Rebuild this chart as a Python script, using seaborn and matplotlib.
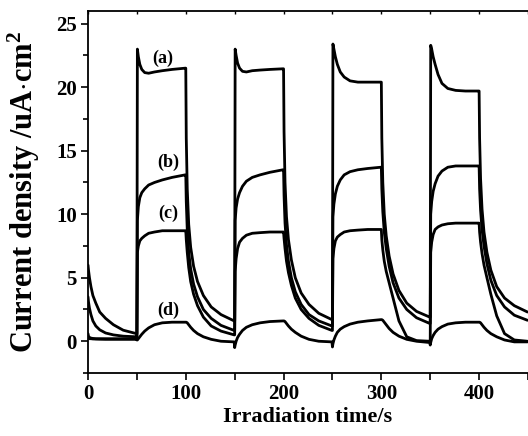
import numpy as np
import pandas as pd
import matplotlib
matplotlib.use("Agg")
import matplotlib.pyplot as plt
import seaborn as sns
from matplotlib.ticker import MultipleLocator

# ---- data ----
TIME = [
    0, 0.5, 1.5, 3, 5, 8, 12, 18, 26, 36, 49.5,
    50, 50.5, 51.5, 53, 55, 58, 62, 68, 76, 86, 99.5,
    100, 100.5, 101.5, 103, 105, 108, 112, 118, 126, 136, 149.5,
    150, 150.5, 151.5, 153, 155, 158, 162, 168, 176, 186, 199.5,
    200, 200.5, 201.5, 203, 205, 208, 212, 218, 226, 236, 249.5,
    250, 250.5, 251.5, 253, 255, 258, 262, 268, 276, 286, 299.5,
    300, 300.5, 301.5, 303, 305, 308, 312, 318, 326, 336, 349.5,
    350, 350.5, 351.5, 353, 355, 358, 362, 368, 376, 386, 399.5,
    400, 400.5, 401.5, 403, 405, 408, 412, 418, 426, 436, 449.5,
]

CURVE_A = [
    6.0, 5.6, 5.0, 4.3, 3.6, 3.0, 2.3, 1.8, 1.3, 0.87, 0.6,
    0.6, 23.0, 22.4, 21.8, 21.4, 21.15, 21.1, 21.2, 21.3, 21.4, 21.5,
    21.5, 16.0, 12.0, 9.2, 7.4, 5.9, 4.7, 3.6, 2.7, 2.1, 1.6,
    1.6, 23.0, 22.5, 21.9, 21.5, 21.25, 21.2, 21.3, 21.35, 21.4, 21.45,
    21.45, 16.5, 12.5, 9.8, 8.0, 6.4, 5.0, 3.8, 2.9, 2.2, 1.7,
    1.7, 23.4, 23.0, 22.4, 21.8, 21.2, 20.8, 20.5, 20.4, 20.4, 20.4,
    20.4, 16.0, 12.5, 10.0, 8.3, 6.7, 5.3, 4.0, 3.0, 2.35, 1.9,
    1.9, 23.3, 23.0, 22.4, 21.8, 21.0, 20.3, 19.9, 19.75, 19.7, 19.7,
    19.7, 16.0, 12.8, 10.4, 8.6, 7.0, 5.6, 4.3, 3.4, 2.8, 2.3,
]

CURVE_B = [
    3.5, 3.1, 2.6, 2.1, 1.6, 1.2, 0.9, 0.65, 0.5, 0.4, 0.35,
    0.35, 9.5, 10.6, 11.3, 11.7, 12.0, 12.3, 12.5, 12.7, 12.9, 13.1,
    13.1, 11.0, 8.8, 7.0, 5.7, 4.5, 3.5, 2.5, 1.8, 1.25, 0.85,
    0.85, 9.5, 10.5, 11.2, 11.7, 12.2, 12.6, 12.9, 13.1, 13.3, 13.5,
    13.5, 11.5, 9.3, 7.6, 6.3, 5.0, 3.9, 2.9, 2.1, 1.6, 1.2,
    1.2, 9.8, 10.8, 11.6, 12.2, 12.7, 13.1, 13.35, 13.5, 13.6, 13.7,
    13.7, 12.0, 10.2, 8.6, 7.3, 5.9, 4.6, 3.4, 2.5, 1.85, 1.4,
    1.4, 10.0, 11.0, 11.8, 12.4, 13.0, 13.4, 13.7, 13.8, 13.8, 13.8,
    13.8, 12.0, 10.3, 8.8, 7.5, 6.1, 4.8, 3.6, 2.7, 2.05, 1.65,
]

CURVE_C = [
    0.6, 0.4, 0.3, 0.25, 0.22, 0.2, 0.2, 0.2, 0.2, 0.2, 0.2,
    0.2, 7.0, 7.5, 7.9, 8.1, 8.3, 8.5, 8.6, 8.7, 8.7, 8.7,
    8.7, 8.0, 7.0, 5.8, 4.7, 3.7, 2.8, 1.9, 1.2, 0.8, 0.5,
    0.5, 5.5, 6.5, 7.3, 7.8, 8.1, 8.35, 8.5, 8.55, 8.6, 8.6,
    8.6, 8.1, 7.3, 6.3, 5.4, 4.4, 3.4, 2.5, 1.8, 1.25, 0.85,
    0.85, 6.5, 7.3, 7.9, 8.2, 8.4, 8.6, 8.7, 8.75, 8.8, 8.8,
    8.8, 8.0, 7.2, 6.3, 5.5, 4.6, 3.4, 1.6, 0.35, 0.05, 0.0,
    0.0, 7.0, 7.8, 8.4, 8.8, 9.0, 9.15, 9.25, 9.3, 9.3, 9.3,
    9.3, 8.6, 7.8, 6.9, 6.0, 5.0, 3.7, 2.0, 0.6, 0.1, 0.0,
]

CURVE_D = [
    0.3, 0.25, 0.2, 0.2, 0.18, 0.17, 0.16, 0.15, 0.15, 0.15, 0.15,
    0.1, 0.1, 0.2, 0.35, 0.55, 0.8, 1.05, 1.3, 1.45, 1.5, 1.5,
    1.5, 1.5, 1.45, 1.3, 1.1, 0.85, 0.6, 0.35, 0.15, 0.0, -0.05,
    -0.5, -0.3, 0.0, 0.3, 0.55, 0.85, 1.1, 1.3, 1.45, 1.55, 1.6,
    1.6, 1.6, 1.55, 1.4, 1.2, 0.95, 0.7, 0.4, 0.15, 0.0, -0.05,
    -0.45, -0.2, 0.1, 0.4, 0.7, 0.95, 1.15, 1.35, 1.5, 1.6, 1.7,
    1.7, 1.7, 1.65, 1.5, 1.3, 1.0, 0.7, 0.4, 0.15, 0.0, -0.1,
    -0.3, -0.1, 0.2, 0.45, 0.7, 0.95, 1.15, 1.35, 1.45, 1.5, 1.5,
    1.5, 1.5, 1.45, 1.3, 1.1, 0.85, 0.6, 0.35, 0.1, -0.05, -0.05,
]

SERIES = ["(a)", "(b)", "(c)", "(d)"]
LABEL_POS = {"(a)": (76, 22.3), "(b)": (82, 14.1), "(c)": (82, 10.1), "(d)": (82, 2.4)}
XTICKS = [0, 100, 200, 300, 400]
YTICKS = [0, 5, 10, 15, 20, 25]

# ---- build long table ----
frames = []
for name, vals in zip(SERIES, [CURVE_A, CURVE_B, CURVE_C, CURVE_D]):
    frames.append(pd.DataFrame({"t": TIME, "I": vals, "s": name}))
df = pd.concat(frames, ignore_index=True)

sns.set_style("ticks")
plt.rcParams["font.family"] = ["Liberation Serif", "DejaVu Serif"]
plt.rcParams["font.weight"] = "bold"
plt.rcParams["text.color"] = "black"
plt.rcParams["axes.labelcolor"] = "black"
plt.rcParams["xtick.color"] = "black"
plt.rcParams["ytick.color"] = "black"
plt.rcParams["mathtext.fontset"] = "custom"
plt.rcParams["mathtext.rm"] = "Liberation Serif:bold"
plt.rcParams["mathtext.it"] = "Liberation Serif:bold"
plt.rcParams["mathtext.bf"] = "Liberation Serif:bold"

fig = plt.figure(figsize=(5.28, 4.36), dpi=100)
ax = fig.add_axes([88 / 528, 1 - 373 / 436, 1 - 88 / 528, (373 - 11) / 436])

sns.lineplot(data=df, x="t", y="I", hue="s", units="s", estimator=None,
             sort=False, palette=["black"] * 4, linewidth=2.0, legend=False, ax=ax)

for name in SERIES:
    x, y = LABEL_POS[name]
    ax.text(x, y, name, fontsize=13, fontweight="bold", ha="center", va="center",
            color="black")

ax.set_xlim(0, 450)
ax.set_ylim(-2.5, 26)
ax.set_xticks(XTICKS)
ax.set_yticks(YTICKS)
ax.xaxis.set_minor_locator(MultipleLocator(50))
ax.yaxis.set_minor_locator(MultipleLocator(2.5))
ax.tick_params(axis="both", which="major", direction="out", length=5, width=1.2,
               labelsize=15, colors="black", labelcolor="black", pad=3)
ax.tick_params(axis="x", which="minor", direction="out", length=5, width=1.2)
ax.tick_params(axis="y", which="minor", direction="out", length=3.5, width=1.2)
for lab in ax.get_xticklabels() + ax.get_yticklabels():
    lab.set_fontweight("bold")
    lab.set_color("black")

# small inward ticks along the top frame
top = ax.secondary_xaxis("top")
top.set_xticks([50 * k for k in range(10)])
top.tick_params(direction="in", length=2.5, width=1.0, labeltop=False)
top.spines["top"].set_linewidth(1.3)
top.spines["top"].set_color("black")

sns.despine(ax=ax, top=True, right=True)
for sp in ["left", "bottom"]:
    ax.spines[sp].set_linewidth(1.3)
    ax.spines[sp].set_color("black")

ax.set_xlabel("Irradiation time/s", fontsize=16, fontweight="bold", labelpad=2,
              color="black")
ax.set_ylabel(r"Current density /uA$\cdot$cm$^{2}$", fontsize=22, fontweight="bold",
              labelpad=10, color="black")

fig.savefig("out.png", dpi=100)
